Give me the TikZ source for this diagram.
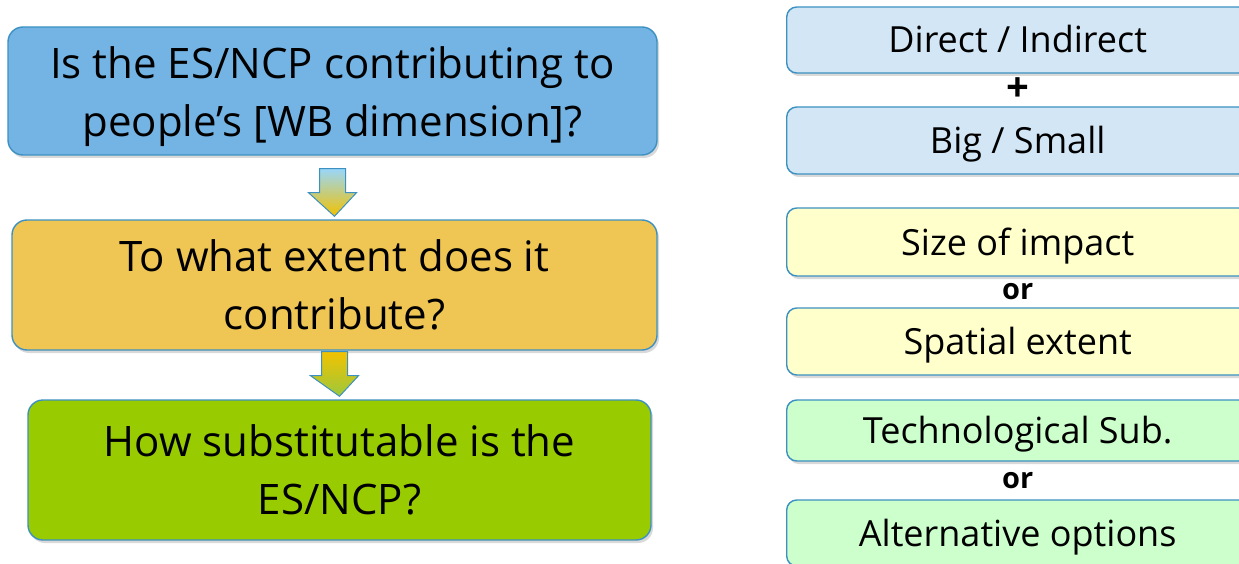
\documentclass[tikz,border=0pt]{standalone}
\usepackage{fontspec}
\setmainfont{Open Sans}
\usetikzlibrary{calc,shadows}
\definecolor{qblue}{HTML}{74B4E4}
\definecolor{qgold}{HTML}{EFC553}
\definecolor{qgreen}{HTML}{99CC00}
\definecolor{rblue}{HTML}{D2E6F5}
\definecolor{ryellow}{HTML}{FFFFCC}
\definecolor{rgreen}{HTML}{CCFFCC}
\definecolor{edge}{HTML}{3C91C2}
\definecolor{arrtop}{HTML}{9AD6F8}
\definecolor{arrmid}{HTML}{F2C200}
\definecolor{arrbot}{HTML}{9CC83C}
\begin{document}
\begin{tikzpicture}[x=1pt,y=-1pt,
  qbox/.style={draw=edge,line width=1.4pt,rounded corners=15pt,align=center,
    drop shadow={opacity=0.3,shadow xshift=2pt,shadow yshift=-3pt},
    font=\fontsize{42}{58}\selectfont},
  rbox/.style={draw=edge,line width=1.4pt,rounded corners=10pt,anchor=west,
    minimum width=462pt,text height=30pt,text depth=4pt,
    drop shadow={opacity=0.3,shadow xshift=2pt,shadow yshift=-3pt},
    font=\fontsize{36}{40}\selectfont},
  joiner/.style={font=\bfseries\fontsize{29}{30}\selectfont}]
\useasboundingbox (0,0) rectangle (1239,564);
\clip (0,0) rectangle (1239,564);
\node[qbox,fill=qblue,minimum width=649pt,minimum height=128pt] (q1) at (332.5,91)
  {\rule{0pt}{44pt}Is the ES/NCP contributing to\\people’s [WB dimension]?};
\node[qbox,fill=qgold,minimum width=645pt,minimum height=130pt] (q2) at (334.5,285)
  {To what extent does it\\contribute?};
\node[qbox,fill=qgreen,minimum width=623pt,minimum height=140pt] (q3) at (339.5,470)
  {How substitutable is the\\ES/NCP?};
\foreach \a/\b/\ct/\cb/\gap in {q1/q2/arrtop/arrmid/13,q2/q3/arrmid/arrbot/1}{
  \shade[top color=\ct,bottom color=\cb,draw=edge,line width=1pt]
    ($(\a.south)+(-13,\gap)$) -- ($(\a.south)+(13,\gap)$) -- ($(\a.south)+(13,\gap+24)$)
    -- ($(\a.south)+(24,\gap+24)$) -- ($(\b.north)+(0,-3)$) -- ($(\a.south)+(-24,\gap+24)$)
    -- ($(\a.south)+(-13,\gap+24)$) -- cycle;
}
\node[rbox,fill=rblue,minimum height=66pt] (r1) at (786,40) {Direct / Indirect};
\node[rbox,fill=rblue,minimum height=67pt] (r2) at (786,140.5) {Big / Small};
\node[rbox,fill=ryellow,minimum height=68pt] (r3) at (786,242) {Size of impact};
\node[rbox,fill=ryellow,minimum height=67pt] (r4) at (786,341.5) {Spatial extent};
\node[rbox,fill=rgreen,minimum height=61pt] (r5) at (786,430.5) {Technological Sub.};
\node[rbox,fill=rgreen,minimum height=66pt] (r6) at (786,533) {Alternative options};
\node[joiner,font=\bfseries\fontsize{40}{40}\selectfont] (plus) at ($(r1.south)!0.5!(r2.north)$) {+};
\node[joiner] (or1) at ($(r3.south)!0.5!(r4.north)$) {or};
\node[joiner] (or2) at ($(r5.south)!0.5!(r6.north)$) {or};
\end{tikzpicture}
\end{document}
